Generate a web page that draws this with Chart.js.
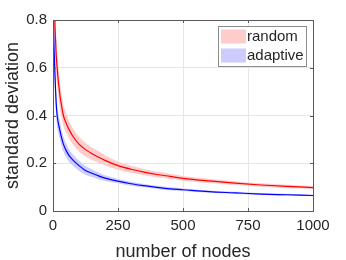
<!DOCTYPE html>
<html>
<head>
<meta charset="utf-8">
<script src="https://cdn.jsdelivr.net/npm/chart.js@4"></script>
<style>
  html, body { margin: 0; padding: 0; background: #fff; }
  #wrap { width: 346px; height: 260px; position: relative; }
</style>
</head>
<body>
<div id="wrap"><canvas id="chart"></canvas></div>
<script>
const nodes = [1, 3, 5, 8, 12, 16, 20, 25, 30, 40, 50, 60, 75, 100, 125, 150, 175, 200,
  250, 300, 350, 400, 450, 500, 600, 700, 800, 900, 1000];

// random: mean and shaded band
const randomMean = [1.20, 0.95, 0.86, 0.76, 0.66, 0.60, 0.55, 0.50, 0.46, 0.40, 0.37, 0.345, 0.315,
  0.28, 0.257, 0.24, 0.226, 0.212, 0.19, 0.175, 0.163, 0.153, 0.145, 0.137, 0.126, 0.117, 0.109, 0.103, 0.098];
const randomUpper = [1.45, 1.13, 1.00, 0.87, 0.75, 0.675, 0.615, 0.558, 0.512, 0.445, 0.41, 0.382, 0.349,
  0.311, 0.285, 0.266, 0.25, 0.233, 0.207, 0.19, 0.176, 0.165, 0.156, 0.147, 0.135, 0.125, 0.116, 0.1095, 0.104];
const randomLower = [0.95, 0.77, 0.72, 0.65, 0.57, 0.525, 0.485, 0.442, 0.408, 0.355, 0.33, 0.308, 0.281,
  0.249, 0.229, 0.214, 0.202, 0.191, 0.173, 0.16, 0.15, 0.141, 0.134, 0.127, 0.117, 0.109, 0.102, 0.0965, 0.092];

// adaptive: mean and shaded band
const adaptiveMean = [0.82, 0.72, 0.65, 0.56, 0.455, 0.40, 0.37, 0.345, 0.32, 0.28, 0.255, 0.235, 0.215,
  0.19, 0.17, 0.158, 0.147, 0.138, 0.125, 0.114, 0.106, 0.099, 0.093, 0.089, 0.081, 0.076, 0.071, 0.068, 0.065];
const adaptiveUpper = [0.97, 0.82, 0.73, 0.625, 0.51, 0.448, 0.413, 0.384, 0.356, 0.312, 0.284, 0.262, 0.239,
  0.211, 0.188, 0.174, 0.161, 0.15, 0.134, 0.122, 0.113, 0.1055, 0.099, 0.0945, 0.086, 0.0805, 0.075, 0.072, 0.0685];
const adaptiveLower = [0.67, 0.62, 0.57, 0.495, 0.40, 0.352, 0.327, 0.306, 0.284, 0.248, 0.226, 0.208, 0.191,
  0.169, 0.152, 0.142, 0.133, 0.126, 0.116, 0.106, 0.099, 0.0925, 0.087, 0.0835, 0.076, 0.0715, 0.067, 0.064, 0.0615];

const xTickLabels = ['0', '250', '500', '750', '1000'];
const yTickLabels = ['0', '0.2', '0.4', '0.6', '0.8'];
const legendLabels = ['random', 'adaptive'];

const FONT = "'Liberation Sans', Arial, sans-serif";
const TEXT = '#262626';
const RED_FILL = 'rgb(255,204,204)';
const BLUE_FILL = 'rgb(204,204,255)';

function pts(ys) {
  return nodes.map((n, i) => ({ x: n, y: ys[i] }));
}

// box, inward ticks and legend drawn like MATLAB
const matlabFrame = {
  id: 'matlabFrame',
  afterDraw(chart) {
    const ctx = chart.ctx;
    const a = chart.chartArea;
    const xs = chart.scales.x, ys = chart.scales.y;
    ctx.save();
    ctx.strokeStyle = '#5a5a5a';
    ctx.lineWidth = 1;
    ctx.beginPath();
    xs.ticks.forEach(t => {
      const px = Math.round(xs.getPixelForValue(t.value)) + 0.5;
      ctx.moveTo(px, a.bottom); ctx.lineTo(px, a.bottom - 3);
      ctx.moveTo(px, a.top); ctx.lineTo(px, a.top + 3);
    });
    ys.ticks.forEach(t => {
      const py = Math.round(ys.getPixelForValue(t.value)) + 0.5;
      ctx.moveTo(a.left, py); ctx.lineTo(a.left + 3, py);
      ctx.moveTo(a.right, py); ctx.lineTo(a.right - 3, py);
    });
    ctx.stroke();
    ctx.strokeRect(Math.round(a.left) + 0.5, Math.round(a.top) + 0.5,
      Math.round(a.right - a.left), Math.round(a.bottom - a.top));

    // legend
    const bx = a.right - 95, by = a.top + 6, bw = 88, bh = 40;
    ctx.fillStyle = '#fff';
    ctx.fillRect(bx, by, bw, bh);
    ctx.strokeStyle = '#8c8c8c';
    ctx.strokeRect(Math.round(bx) + 0.5, Math.round(by) + 0.5, bw, bh);
    const fills = [RED_FILL, BLUE_FILL];
    ctx.font = '15px ' + FONT;
    ctx.textBaseline = 'middle';
    legendLabels.forEach((lab, i) => {
      const ry = by + 3.5 + i * 19;
      ctx.fillStyle = fills[i];
      ctx.fillRect(bx + 3, ry, 25, 14);
      ctx.fillStyle = TEXT;
      ctx.fillText(lab, bx + 29, ry + 7.5);
    });
    ctx.restore();
  }
};

new Chart(document.getElementById('chart'), {
  type: 'line',
  data: {
    datasets: [
      { data: pts(randomUpper), order: 2, borderWidth: 0, pointRadius: 0, fill: false, cubicInterpolationMode: 'monotone' },
      { data: pts(randomLower), order: 2, borderWidth: 0, pointRadius: 0, fill: '-1', backgroundColor: RED_FILL, cubicInterpolationMode: 'monotone' },
      { data: pts(adaptiveUpper), order: 1, borderWidth: 0, pointRadius: 0, fill: false, cubicInterpolationMode: 'monotone' },
      { data: pts(adaptiveLower), order: 1, borderWidth: 0, pointRadius: 0, fill: '-1', backgroundColor: BLUE_FILL, cubicInterpolationMode: 'monotone' },
      { data: pts(randomMean), order: 0, borderColor: 'rgb(255,0,0)', borderWidth: 1.2, pointRadius: 0, fill: false, cubicInterpolationMode: 'monotone' },
      { data: pts(adaptiveMean), order: 0, borderColor: 'rgb(0,0,255)', borderWidth: 1.2, pointRadius: 0, fill: false, cubicInterpolationMode: 'monotone' }
    ]
  },
  options: {
    responsive: true,
    maintainAspectRatio: false,
    animation: false,
    events: [],
    layout: { padding: { left: 0, right: 33, top: 20, bottom: 0 } },
    plugins: { legend: { display: false }, tooltip: { enabled: false } },
    scales: {
      x: {
        type: 'linear', min: 0, max: 1000,
        ticks: {
          stepSize: 250, color: TEXT, padding: 6, maxRotation: 0,
          font: { family: FONT, size: 15 },
          callback: (v, i) => xTickLabels[i]
        },
        grid: { color: '#e6e6e6', drawTicks: false },
        border: { display: false },
        title: { display: true, text: 'number of nodes', color: TEXT, font: { family: FONT, size: 18 }, padding: { top: 0, bottom: -3 } },
        afterFit: s => { s.height = 49; }
      },
      y: {
        min: 0, max: 0.8,
        ticks: {
          stepSize: 0.2, color: TEXT, padding: 6,
          font: { family: FONT, size: 15 },
          callback: (v, i) => yTickLabels[i]
        },
        grid: { color: '#e6e6e6', drawTicks: false },
        border: { display: false },
        title: { display: true, text: 'standard deviation', color: TEXT, font: { family: FONT, size: 18 }, padding: { top: 2, bottom: 0 } },
        afterFit: s => { s.width = 53; }
      }
    }
  },
  plugins: [matlabFrame]
});
</script>
</body>
</html>
